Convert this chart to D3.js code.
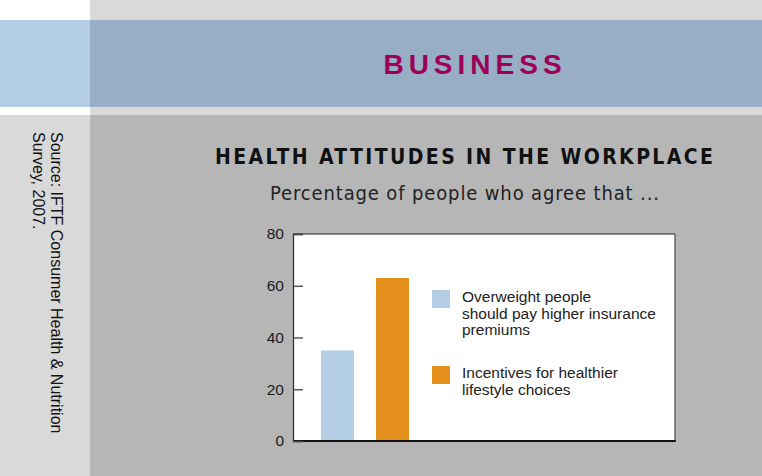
<!DOCTYPE html>
<html>
<head>
<meta charset="utf-8">
<script src="https://cdn.jsdelivr.net/npm/d3@7"></script>
<style>
  body { margin: 0; background: #fff; }
  svg { display: block; }
</style>
</head>
<body>
<svg id="chart" width="762" height="476"></svg>
<script>
// values
var categories = ["Overweight people should pay higher insurance premiums", "Incentives for healthier lifestyle choices"];
var values = [35, 63];
var colors = ["#b3cee5", "#e58f1c"];
var legendLines = [["Overweight people", "should pay higher insurance", "premiums"], ["Incentives for healthier", "lifestyle choices"]];
var yTicks = [0, 20, 40, 60, 80];

var svg = d3.select("#chart");

// page background blocks
svg.append("rect").attr("x", 90).attr("y", 0).attr("width", 672).attr("height", 20).attr("fill", "#d9d9d9");
svg.append("rect").attr("x", 0).attr("y", 20).attr("width", 90).attr("height", 87).attr("fill", "#b3cee5");
svg.append("rect").attr("x", 90).attr("y", 20).attr("width", 672).attr("height", 87).attr("fill", "#97aec5");
svg.append("rect").attr("x", 90).attr("y", 107).attr("width", 672).attr("height", 8).attr("fill", "#d9d9d9");
svg.append("rect").attr("x", 0).attr("y", 115).attr("width", 90).attr("height", 361).attr("fill", "#d9d9d9");
svg.append("rect").attr("x", 90).attr("y", 115).attr("width", 672).attr("height", 361).attr("fill", "#b6b6b6");

svg.append("text")
    .attr("x", 475).attr("y", 74)
    .attr("text-anchor", "middle")
    .attr("font-family", "Liberation Sans, Arial, sans-serif")
    .attr("font-weight", "bold")
    .attr("font-size", "28px")
    .attr("letter-spacing", "5px")
    .attr("fill", "#9e0057")
    .text("BUSINESS");

// rotated source note
var src = svg.append("text")
    .attr("transform", "translate(51,132) rotate(90)")
    .attr("font-family", "Liberation Sans, Arial, sans-serif")
    .attr("font-size", "16px")
    .attr("fill", "#111");
src.append("tspan").attr("x", 0).attr("y", 0).text("Source: IFTF Consumer Health & Nutrition");
src.append("tspan").attr("x", 0).attr("y", 18).text("Survey, 2007.");

svg.append("text")
    .attr("x", 215).attr("y", 164)
    .attr("textLength", 498).attr("lengthAdjust", "spacing")
    .attr("font-family", "DejaVu Sans Condensed, DejaVu Sans, sans-serif")
    .attr("font-weight", "bold")
    .attr("font-size", "21px")
    .attr("fill", "#111")
    .text("HEALTH ATTITUDES IN THE WORKPLACE");

svg.append("text")
    .attr("x", 270).attr("y", 200)
    .attr("textLength", 389).attr("lengthAdjust", "spacing")
    .attr("font-family", "DejaVu Sans Condensed, DejaVu Sans, sans-serif")
    .attr("font-size", "20px")
    .attr("fill", "#222")
    .text("Percentage of people who agree that ...");

// plot area
var plotLeft = 293, plotRight = 675, plotTop = 234, plotBottom = 441;

var y = d3.scaleLinear().domain([0, 80]).range([plotBottom, plotTop]);
var x = d3.scaleBand().domain(categories).range([plotLeft + 28, plotLeft + 116]).paddingInner(0.4);

svg.append("rect")
    .attr("x", plotLeft).attr("y", plotTop)
    .attr("width", plotRight - plotLeft).attr("height", plotBottom - plotTop)
    .attr("fill", "#fff");

svg.selectAll(".bar")
    .data(values)
    .enter().append("rect")
    .attr("class", "bar")
    .attr("x", function(d, i) { return x(categories[i]); })
    .attr("width", x.bandwidth())
    .attr("y", function(d) { return y(d); })
    .attr("height", function(d) { return y(0) - y(d); })
    .attr("fill", function(d, i) { return colors[i]; });

// frame
svg.append("line").attr("x1", plotLeft).attr("x2", plotRight).attr("y1", plotTop).attr("y2", plotTop).attr("stroke", "#222").attr("stroke-width", 1);
svg.append("line").attr("x1", plotRight).attr("x2", plotRight).attr("y1", plotTop).attr("y2", plotBottom + 1).attr("stroke", "#666").attr("stroke-width", 1.5);
svg.append("line").attr("x1", plotLeft).attr("x2", plotRight + 0.75).attr("y1", plotBottom).attr("y2", plotBottom).attr("stroke", "#111").attr("stroke-width", 2);

var axis = d3.axisLeft(y).tickValues(yTicks).tickSize(-10).tickPadding(9);
var g = svg.append("g").attr("transform", "translate(" + plotLeft + ",0)").call(axis);
g.select(".domain").attr("stroke", "#333").attr("stroke-width", 1.3);
g.selectAll(".tick line").attr("stroke", "#444").attr("stroke-width", 1.3);
g.selectAll(".tick text")
    .attr("font-family", "Liberation Sans, Arial, sans-serif")
    .attr("font-size", "15.5px")
    .attr("fill", "#1a1a1a");

// legend
var legendY = [290, 366];
var leg = svg.selectAll(".leg")
    .data(categories)
    .enter().append("g")
    .attr("class", "leg")
    .attr("transform", function(d, i) { return "translate(432," + legendY[i] + ")"; });

leg.append("rect")
    .attr("width", 18).attr("height", 18)
    .attr("fill", function(d, i) { return colors[i]; });

leg.each(function(d, i) {
    var t = d3.select(this).append("text")
        .attr("font-family", "Liberation Sans, Arial, sans-serif")
        .attr("font-size", "15.5px")
        .attr("fill", "#222");
    legendLines[i].forEach(function(line, j) {
        t.append("tspan").attr("x", 30).attr("y", 12 + j * 16.5).text(line);
    });
});
</script>
</body>
</html>
